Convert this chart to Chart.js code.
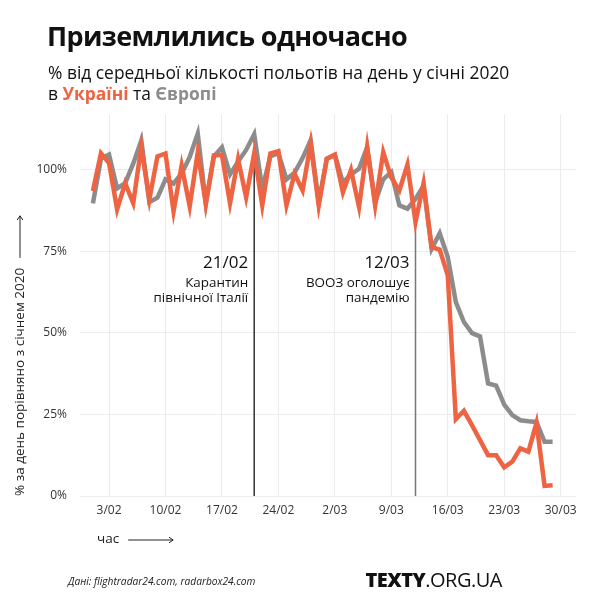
<!DOCTYPE html>
<html lang="uk">
<head>
<meta charset="utf-8">
<script src="https://cdn.jsdelivr.net/npm/chart.js@4.4.1/dist/chart.umd.min.js"></script>
<style>
  html, body { margin: 0; padding: 0; background: #fff; }
  body { width: 600px; height: 605px; position: relative; overflow: hidden; font-family: "Open Sans", sans-serif; color: #111; }
  #wrap { position: absolute; left: 0; top: 0; width: 600px; height: 605px; }
  .txt { position: absolute; white-space: nowrap; }
  #title { left: 47px; top: 21px; font-size: 27px; line-height: 30px; font-weight: 700; letter-spacing: -0.6px; }
  #sub1 { left: 48px; top: 62px; font-size: 17.4px; line-height: 21px; }
  #sub2 { left: 48px; top: 83px; font-size: 17.4px; line-height: 21px; }
  .ua { color: #ee6342; font-weight: 700; }
  .eu { color: #8c8c8c; font-weight: 700; }
  #source { left: 68px; top: 576px; font-size: 10.2px; line-height: 11px; font-style: italic; color: #222; }
  #brand { right: 98px; top: 569px; font-size: 20px; line-height: 21px; color: #111; letter-spacing: -0.5px; }
  #brand b { font-weight: 800; }
</style>
</head>
<body>
<div id="wrap"><canvas id="flightsChart"></canvas></div>
<div class="txt" id="title">Приземлились одночасно</div>
<div class="txt" id="sub1">% від середньої кількості польотів на день у січні 2020</div>
<div class="txt" id="sub2">в <span class="ua">Україні</span> та <span class="eu">Європі</span></div>
<div class="txt" id="source">Дані: flightradar24.com, radarbox24.com</div>
<div class="txt" id="brand"><b>TEXTY</b>.ORG.UA</div>
<script>
// день 0 = 1/02/2020, останній = 29/03/2020
const ukraine = [93.4, 105, 102, 87.8, 95.8, 89.7, 107, 90.8, 104, 104.9,
  87.2, 101.2, 88.7, 105.3, 89.5, 104.3, 104.5, 89.7, 103.2, 91.5,
  105, 89, 104.9, 105.6, 89, 98.7, 93.6, 107.9, 89, 103.3,
  104.5, 93, 99.9, 88.5, 107, 89, 105.3, 97.5, 93.6, 101.5,
  83.9, 95.8, 76.2, 75.5, 67.6, 23.5, 26.1, 21.7, 17.1, 12.5,
  12.5, 8.8, 10.5, 14.6, 13.6, 22.4, 3.1, 3.3];
const europe = [89.6, 103.3, 104.6, 94.2, 95.8, 101.8, 108.9, 90, 91.4, 97,
  95.7, 98.7, 103.8, 111, 89.6, 104, 106.8, 98.5, 102.4, 106,
  110.8, 94, 104, 105, 97, 99, 103.5, 109, 90, 103.3,
  104.5, 96, 98.5, 100.2, 106.8, 90, 97, 99.2, 89, 88,
  91, 95, 75.7, 80.5, 73.2, 59.4, 53.3, 49.9, 48.9, 34.5,
  33.8, 28, 24.8, 23.2, 22.9, 22.7, 16.6, 16.6];

const tickDays = [2, 9, 16, 23, 30, 37, 44, 51, 58];
const tickLabels = ['3/02', '10/02', '17/02', '24/02', '2/03', '9/03', '16/03', '23/03', '30/03'];
const yTicks = [0, 25, 50, 75, 100];

const eventDays = [20, 40];
const eventTops = [102, 84];
const eventDates = ['21/02', '12/03'];
const eventNotes = [['Карантин', 'північної Італії'], ['ВООЗ оголошує', 'пандемію']];

const FONT = '"Open Sans", sans-serif';
const toPoints = arr => arr.map((v, i) => ({ x: i, y: v }));

// вертикальні лінії подій і підписи до них
const eventsPlugin = {
  id: 'events',
  beforeDatasetsDraw(chart) {
    const { ctx, chartArea, scales } = chart;
    const colors = ['#333', '#777'];
    eventDays.forEach((d, i) => {
      const x = scales.x.getPixelForValue(d);
      ctx.save();
      ctx.strokeStyle = colors[i];
      ctx.lineWidth = 1.5;
      ctx.beginPath();
      ctx.moveTo(x, scales.y.getPixelForValue(eventTops[i]));
      ctx.lineTo(x, chartArea.bottom);
      ctx.stroke();
      ctx.restore();
    });
  },
  afterDatasetsDraw(chart) {
    const { ctx, chartArea, scales } = chart;
    eventDays.forEach((d, i) => {
      const x = scales.x.getPixelForValue(d) - 6;
      ctx.save();
      ctx.fillStyle = '#111';
      ctx.textAlign = 'right';
      ctx.textBaseline = 'alphabetic';
      ctx.font = '500 17px ' + FONT;
      ctx.fillText(eventDates[i], x, chartArea.top + 154);
      ctx.font = '13.4px ' + FONT;
      eventNotes[i].forEach((line, j) => {
        ctx.fillText(line, x, chartArea.top + 173 + j * 14.5);
      });
      ctx.restore();
    });
  }
};

function arrow(ctx, x1, y1, x2, y2) {
  const a = Math.atan2(y2 - y1, x2 - x1);
  ctx.beginPath();
  ctx.moveTo(x1, y1);
  ctx.lineTo(x2, y2);
  ctx.moveTo(x2 - 5 * Math.cos(a - 0.6), y2 - 5 * Math.sin(a - 0.6));
  ctx.lineTo(x2, y2);
  ctx.lineTo(x2 - 5 * Math.cos(a + 0.6), y2 - 5 * Math.sin(a + 0.6));
  ctx.stroke();
}

// підписи осей зі стрілками
const axisTitles = {
  id: 'axisTitles',
  afterDraw(chart) {
    const { ctx, chartArea } = chart;
    ctx.save();
    ctx.fillStyle = '#222';
    ctx.strokeStyle = '#222';
    ctx.lineWidth = 1;
    ctx.font = '13.5px ' + FONT;
    ctx.textBaseline = 'middle';
    ctx.textAlign = 'left';

    ctx.save();
    ctx.translate(20, chartArea.bottom);
    ctx.rotate(-Math.PI / 2);
    const yTitle = '% за день порівняно з січнем 2020';
    ctx.fillText(yTitle, 0, 0);
    const w = ctx.measureText(yTitle).width;
    arrow(ctx, w + 10, 0, w + 52, 0);
    ctx.restore();

    const xTitle = 'час';
    ctx.fillText(xTitle, 97, chartArea.bottom + 43);
    const wx = ctx.measureText(xTitle).width;
    arrow(ctx, 97 + wx + 9, chartArea.bottom + 44, 97 + wx + 54, chartArea.bottom + 44);
    ctx.restore();
  }
};

const ctx = document.getElementById('flightsChart').getContext('2d');

const flightsChart = new Chart(ctx, {
  type: 'line',
  data: {
    datasets: [{
      label: 'Україна',
      data: toPoints(ukraine),
      borderColor: '#ee6342',
      borderWidth: 4.5,
      pointRadius: 0,
      tension: 0
    }, {
      label: 'Європа',
      data: toPoints(europe),
      borderColor: '#8c8c8c',
      borderWidth: 4.5,
      pointRadius: 0,
      tension: 0
    }]
  },
  options: {
    responsive: true,
    maintainAspectRatio: false,
    animation: false,
    layout: { padding: { left: 0, right: 24, top: 114, bottom: 79 } },
    plugins: {
      legend: { display: false },
      tooltip: { enabled: false }
    },
    scales: {
      x: {
        type: 'linear',
        min: -1.6,
        max: 59.9,
        afterBuildTicks: s => { s.ticks = tickDays.map(v => ({ value: v })); },
        afterFit: s => { s.height = 30; },
        ticks: {
          callback: v => tickLabels[tickDays.indexOf(v)],
          color: '#333',
          font: { family: FONT, size: 12 },
          maxRotation: 0,
          autoSkip: false,
          padding: 7
        },
        grid: { color: '#ececec', drawTicks: false },
        border: { display: false }
      },
      y: {
        min: 0,
        max: 117,
        afterBuildTicks: s => { s.ticks = yTicks.map(v => ({ value: v })); },
        afterFit: s => { s.width = 80; },
        ticks: {
          callback: v => v + '%',
          color: '#333',
          font: { family: FONT, size: 12 },
          padding: 13
        },
        grid: { color: '#ececec', drawTicks: false },
        border: { display: false }
      }
    }
  },
  plugins: [eventsPlugin, axisTitles]
});
</script>
</body>
</html>
